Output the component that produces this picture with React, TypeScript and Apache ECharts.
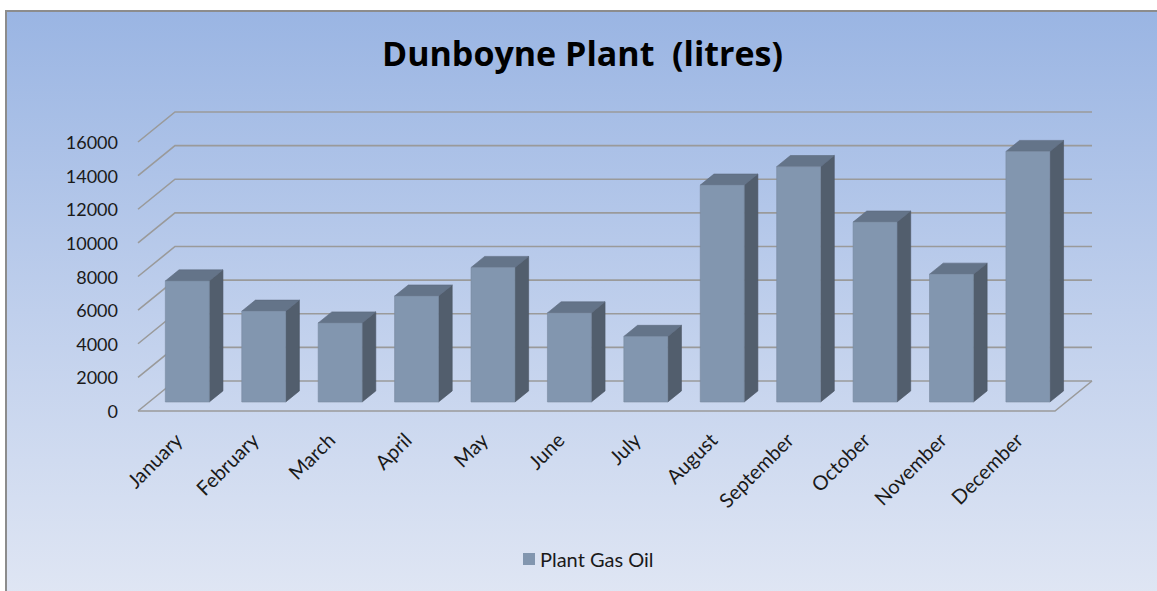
import React, { useEffect, useRef } from "react";
import * as echarts from "echarts";

const titleText = "Dunboyne Plant  (litres)";
const seriesName = "Plant Gas Oil";
const categories = [
  "January", "February", "March", "April", "May", "June",
  "July", "August", "September", "October", "November", "December",
];
const gasOil = [7200, 5400, 4700, 6300, 8000, 5300, 3900, 12900, 14000, 10700, 7600, 14900];
const yTicks = [0, 2000, 4000, 6000, 8000, 10000, 12000, 14000, 16000];

const FONT = "Lato, 'Open Sans', sans-serif";
const TITLE_FONT = "'Open Sans', Lato, sans-serif";
const FRONT = "#8296AF";
const SIDE = "#525E6D";
const TOP = "#647489";
const GRID_LINE = "#9a9a9a";

const DEPTH_X = 37;
const DEPTH_Y = -30;
const BAR_FRONT = 0.3;
const BAR_DEPTH = 0.37;
const BAR_WIDTH = 0.575;

export default function App() {
  const ref = useRef<HTMLDivElement>(null);
  useEffect(() => {
    if (!ref.current) return;
    const chart = echarts.init(ref.current, null, { renderer: "svg" });
    const option: any = {
      animation: false,
      graphic: [
        {
          type: "rect",
          z: -10,
          silent: true,
          shape: { x: 6, y: 11, width: 1170, height: 600 },
          style: {
            fill: new echarts.graphic.LinearGradient(0, 0, 0, 1, [
              { offset: 0, color: "#9AB5E3" },
              { offset: 0.5, color: "#BFCFEC" },
              { offset: 1, color: "#E1E7F4" },
            ]),
            stroke: "#8c8c8c",
            lineWidth: 2,
          },
        },
      ],
      title: {
        text: titleText,
        left: 382,
        top: 36,
        padding: 0,
        textStyle: { fontFamily: TITLE_FONT, fontSize: 34, fontWeight: "bold", color: "#000" },
      },
      legend: {
        data: [{ name: seriesName, icon: "rect", itemStyle: { color: FRONT } }],
        left: 518,
        top: 544,
        itemWidth: 12,
        itemHeight: 12,
        itemGap: 6,
        textStyle: { fontFamily: FONT, fontSize: 20, color: "#1a1a1a" },
      },
      grid: [
        { left: 138, top: 142, width: 917, height: 269, outerBoundsMode: "none" },
        { left: 140, top: 142, width: 917, height: 269, outerBoundsMode: "none" },
      ],
      xAxis: [
        {
          type: "category",
          gridIndex: 0,
          data: categories,
          axisLine: { show: false },
          axisTick: { show: false },
          axisLabel: { show: false },
        },
        {
          type: "category",
          gridIndex: 1,
          data: categories,
          axisLine: { show: false },
          axisTick: { show: false },
          axisLabel: {
            rotate: 45,
            margin: 25,
            interval: 0,
            fontFamily: FONT,
            fontSize: 20,
            color: "#1a1a1a",
          },
        },
      ],
      yAxis: [
        {
          type: "value",
          gridIndex: 0,
          min: 0,
          max: 16000,
          interval: 2000,
          axisLine: { show: false },
          axisTick: { show: false },
          splitLine: { show: false },
          axisLabel: {
            margin: 20,
            fontFamily: FONT,
            fontSize: 18,
            color: "#1a1a1a",
            formatter: (v: number) => String(v),
          },
        },
        {
          type: "value",
          gridIndex: 1,
          min: 0,
          max: 16000,
          interval: 2000,
          show: false,
        },
      ],
      series: [
        {
          type: "custom",
          xAxisIndex: 0,
          yAxisIndex: 0,
          z: 1,
          silent: true,
          data: yTicks.map((v) => [0, v]),
          encode: { x: 0, y: 1 },
          renderItem: (params: any, api: any) => {
            const cs = params.coordSys;
            const v = api.value(1);
            const y = api.coord([0, v])[1];
            const x0 = cs.x;
            const x1 = cs.x + cs.width;
            const children: any[] = [
              {
                type: "polyline",
                shape: { points: [[x0, y], [x0 + DEPTH_X, y + DEPTH_Y], [x1 + DEPTH_X, y + DEPTH_Y]] },
                style: { stroke: GRID_LINE, lineWidth: 1.6, fill: "none" },
              },
            ];
            if (v === 0) {
              children.push({
                type: "polyline",
                shape: { points: [[x0, y], [x1, y], [x1 + DEPTH_X, y + DEPTH_Y]] },
                style: { stroke: GRID_LINE, lineWidth: 1.6, fill: "none" },
              });
            }
            return { type: "group", children };
          },
        },
        {
          type: "custom",
          name: seriesName,
          xAxisIndex: 0,
          yAxisIndex: 0,
          z: 2,
          itemStyle: { color: FRONT },
          data: gasOil.map((v, i) => [i, v]),
          encode: { x: 0, y: 1 },
          renderItem: (params: any, api: any) => {
            const i = api.value(0);
            const v = api.value(1);
            const base = api.coord([i, 0]);
            const top = api.coord([i, v]);
            const w = api.size([1, 0])[0] * BAR_WIDTH;
            const ox = BAR_FRONT * DEPTH_X;
            const oy = BAR_FRONT * DEPTH_Y;
            const dx = BAR_DEPTH * DEPTH_X;
            const dy = BAR_DEPTH * DEPTH_Y;
            const L = base[0] + ox - w / 2;
            const R = L + w;
            const yt = top[1] + oy;
            const yb = base[1] + oy;
            return {
              type: "group",
              children: [
                {
                  type: "polygon",
                  shape: { points: [[R, yt], [R + dx, yt + dy], [R + dx, yb + dy], [R, yb]] },
                  style: { fill: SIDE, stroke: "#4b5664", lineWidth: 0.6 },
                },
                {
                  type: "polygon",
                  shape: { points: [[L, yt], [L + dx, yt + dy], [R + dx, yt + dy], [R, yt]] },
                  style: { fill: TOP, stroke: "#5c6a7e", lineWidth: 0.6 },
                },
                {
                  type: "rect",
                  shape: { x: L, y: yt, width: w, height: yb - yt },
                  style: { fill: FRONT, stroke: "#7889a0", lineWidth: 0.6 },
                },
              ],
            };
          },
        },
      ],
    };
    chart.setOption(option);
    return () => chart.dispose();
  }, []);
  return (
    <div
      ref={ref}
      style={{ position: "fixed", left: 0, top: 0, width: 1157, height: 591, background: "#fff" }}
    />
  );
}
